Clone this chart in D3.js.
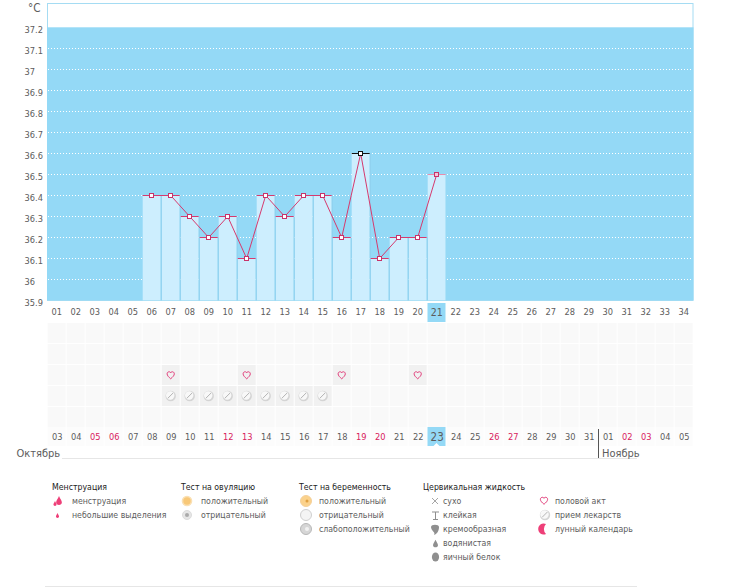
<!DOCTYPE html>
<html><head><meta charset="utf-8">
<script src="https://cdn.jsdelivr.net/npm/d3@7/dist/d3.min.js"></script>
<style>
html,body{margin:0;padding:0;background:#fff}
svg{display:block}
text{font-family:"DejaVu Sans Condensed","DejaVu Sans",sans-serif;font-stretch:condensed;fill:#5c5c5c}
</style></head><body><svg id="c" width="731" height="587"></svg>
<script>
const cycleDays = d3.range(1,35).map(d=>String(d).padStart(2,"0"));
const calendarDays = ["03","04","05","06","07","08","09","10","11","12","13","14","15","16","17","18","19","20","21","22","23","24","25","26","27","28","29","30","31","01","02","03","04","05"];
const redCalendarIndex = [2,3,9,10,16,17,23,24,30,31];
const tempDays = ["06","07","08","09","10","11","12","13","14","15","16","17","18","19","20","21"];
const tempValues = [36.4,36.4,36.3,36.2,36.3,36.1,36.4,36.3,36.4,36.4,36.2,36.6,36.1,36.2,36.2,36.5];
const yTicks = [37.2,37.1,37,36.9,36.8,36.7,36.6,36.5,36.4,36.3,36.2,36.1,36,35.9];
const heartDays = ["07","11","16","20"];
const pillDays = ["07","08","09","10","11","12","13","14","15"];
const todayDay = "21";
const peakDay = "17";
const legendMens = ["менструация","небольшие выделения"];
const legendOvul = ["положительный","отрицательный"];
const legendPreg = ["положительный","отрицательный","слабоположительный"];
const legendFluid = ["сухо","клейкая","кремообразная","водянистая","яичный белок"];
const legendOther = ["половой акт","прием лекарств","лунный календарь"];
const legendHeads = ["Менструация","Тест на овуляцию","Тест на беременность","Цервикальная жидкость"];

const svg = d3.select("#c");
const blue="#94d9f6", pale="#cdeefe", sep="#8fd0ee", pink="#d63a6e", red="#d81b5c";
const x = d3.scaleBand().domain(cycleDays).range([47.7,693.7]);
const y = d3.scaleLinear().domain([35.9,37.2]).range([300.3,27.3]);
const rowsY = [323,344,365,386,407,427];

svg.append("rect").attr("x",47.5).attr("y",3.5).attr("width",645.5).attr("height",297).attr("fill","#fff").attr("stroke","#a5dcf3");
svg.append("rect").attr("x",47).attr("y",y(37.2)).attr("width",646.5).attr("height",y(35.9)-y(37.2)).attr("fill",blue);

svg.append("g").selectAll("line").data(yTicks.filter(d=>d<37.2&&d>35.9)).join("line")
 .attr("x1",48).attr("x2",693).attr("y1",d=>Math.round(y(d))+.5).attr("y2",d=>Math.round(y(d))+.5)
 .attr("stroke","#fff").attr("stroke-dasharray","1 2");

const ya = svg.append("g").attr("transform","translate(47,0)")
 .call(d3.axisLeft(y).tickValues(yTicks).tickSize(0).tickFormat(d3.format("~g")));
ya.select(".domain").remove();
ya.selectAll("text").attr("x",-22.5).attr("dy",".36em").attr("text-anchor","start").style("font-size","9.2px")
 .attr("transform","translate(0,2)").attr("fill",null);
svg.append("text").attr("x",28).attr("y",12).style("font-size","11.5px").text("°C");

const pts = tempDays.map((d,i)=>({d,v:tempValues[i]}));
svg.append("g").selectAll("rect").data(pts).join("rect")
 .attr("x",d=>x(d.d)).attr("width",x.bandwidth()-1).attr("y",d=>y(d.v)).attr("height",d=>y(35.9)-y(d.v)).attr("fill",pale);
svg.append("g").selectAll("line").data(pts).join("line")
 .attr("x1",d=>x(d.d)+18.5).attr("x2",d=>x(d.d)+18.5).attr("y1",d=>y(d.v)).attr("y2",y(35.9)).attr("stroke",d=>d.d===todayDay?blue:sep);
svg.append("g").selectAll("line").data(pts).join("line")
 .attr("x1",d=>x(d.d)).attr("x2",d=>x(d.d)+x.bandwidth()-1)
 .attr("y1",d=>Math.round(y(d.v))+.5).attr("y2",d=>Math.round(y(d.v))+.5)
 .attr("stroke",d=>d.d===peakDay?"#111":d.d===todayDay?"#e88cad":pink);
const cx=d=>x(d)+x.bandwidth()/2-.5;
svg.append("path").datum(pts).attr("fill","none").attr("stroke",pink).attr("stroke-width",1)
 .attr("d",d3.line().x(d=>cx(d.d)).y(d=>Math.round(y(d.v))+.5));
svg.append("g").selectAll("rect").data(pts).join("rect")
 .attr("x",d=>Math.round(cx(d.d))-2.5).attr("y",d=>Math.round(y(d.v))-1.5).attr("width",4).attr("height",4)
 .attr("fill",d=>d.d===todayDay?"#f6c6d8":"#fff").attr("stroke",d=>d.d===peakDay?"#111":"#c8336a");

const hlX = x(todayDay)-.2;
svg.append("rect").attr("x",hlX).attr("y",303).attr("width",18).attr("height",19).attr("fill",blue);
svg.append("rect").attr("x",hlX).attr("y",427).attr("width",18).attr("height",19).attr("fill",blue);
svg.append("path").attr("d",d3.line()([[hlX+6,446],[hlX+9,443],[hlX+12,446]])).attr("fill","#fff");

const g = svg.append("g");
rowsY.forEach((ry,ri)=>{
  g.append("g").selectAll("rect").data(cycleDays).join("rect")
   .attr("x",d=>x(d)).attr("y",ry).attr("width",18).attr("height",ri===5?19:20)
   .attr("fill",d=>{
     if(ri===5&&d===todayDay) return "none";
     if((ri===2&&heartDays.includes(d))||(ri===3&&pillDays.includes(d))) return "#f1f1f1";
     return ri===5?"#fcfcfc":"#f9f9f9";
   });
});

const xa = svg.append("g").attr("transform","translate(-.5,312)")
 .call(d3.axisBottom(x).tickSize(0).tickPadding(0));
xa.select(".domain").remove();
xa.selectAll("text").attr("y",0).attr("dy",".36em").style("font-size",d=>d===todayDay?"10.5px":"9.2px").attr("fill",null);
const xb = d3.scaleBand().domain(d3.range(34)).range([47.7,693.7]);
const xba = svg.append("g").attr("transform","translate(0,437)")
 .call(d3.axisBottom(xb).tickSize(0).tickPadding(0).tickFormat(i=>calendarDays[i]));
xba.select(".domain").remove();
xba.selectAll("text").attr("y",0).attr("dy",".36em").style("font-size",i=>i===20?"11.5px":"9.2px")
 .attr("fill",null).style("fill",i=>redCalendarIndex.includes(i)?red:null);

svg.append("line").attr("x1",62).attr("x2",637).attr("y1",458.5).attr("y2",458.5).attr("stroke","#e6e6e6");
svg.append("line").attr("x1",598.5).attr("x2",598.5).attr("y1",429).attr("y2",458).attr("stroke","#555");
svg.append("text").attr("x",16.5).attr("y",457).style("font-size","11px").text("Октябрь");
svg.append("text").attr("x",602).attr("y",457).style("font-size","11px").text("Ноябрь");
svg.append("line").attr("x1",45).attr("x2",637).attr("y1",586.5).attr("y2",586.5).attr("stroke","#e6e6e6");

function heart(sel,cx,cy){
  sel.append("path").attr("transform",`translate(${cx},${cy})`)
   .attr("d","M0,3.8 C-2,2 -3.6,.6 -3.6,-1.2 C-3.6,-2.8 -2.2,-3.4 -1.2,-3.2 C-.6,-3.1 -.2,-2.7 0,-2.2 C.2,-2.7 .6,-3.1 1.2,-3.2 C2.2,-3.4 3.6,-2.8 3.6,-1.2 C3.6,.6 2,2 0,3.8Z")
   .attr("fill","none").attr("stroke","#e2407c").attr("stroke-width",1);
}
function pill(sel,cx,cy){
  const p=sel.append("g").attr("transform",`translate(${cx},${cy})`);
  p.append("circle").attr("r",5.2).attr("fill","#d4d4d4");
  p.append("circle").attr("cx",-.5).attr("cy",-.5).attr("r",4.2).attr("fill","#f8f8f8");
  p.append("line").attr("x1",-3).attr("y1",2.4).attr("x2",2.4).attr("y2",-3).attr("stroke","#b4b4b4").attr("stroke-width",1);
}
const ic=svg.append("g");
heartDays.forEach(d=>heart(ic,cx(d),375));
pillDays.forEach(d=>pill(ic,cx(d),396));

const lg=svg.append("g").style("font-size","8.7px");
const rowY=i=>501+14*i;
const head=(t,xp)=>lg.append("text").attr("x",xp).attr("y",490).style("font-size","8.7px").style("fill","#222").text(t);
[52,181,299,423].forEach((xp,i)=>head(legendHeads[i],xp));
const items=(arr,xp)=>arr.forEach((t,i)=>lg.append("text").attr("x",xp).attr("y",rowY(i)).attr("dy",".36em").text(t));
items(legendMens,72);items(legendOvul,201);items(legendPreg,319);items(legendFluid,443);items(legendOther,555);

const drop=(sel,cx,cy,s,c)=>sel.append("path").attr("transform",`translate(${cx},${cy}) scale(${s})`)
  .attr("d","M0,-4 C1,-1.5 2.6,0 2.6,1.8 C2.6,3.4 1.4,4 0,4 C-1.4,4 -2.6,3.4 -2.6,1.8 C-2.6,0 -1,-1.5 0,-4Z").attr("fill",c);
const mp="#ee3f78";
drop(lg,59,500.5,1.1,mp);drop(lg,55,503.5,.6,mp);drop(lg,57.5,515.5,.6,mp);
lg.append("circle").attr("cx",187).attr("cy",501).attr("r",4.5).attr("fill","#f8c878").attr("stroke","#fae0b4").attr("stroke-width",1.6);
lg.append("circle").attr("cx",187).attr("cy",515).attr("r",4.5).attr("fill","#e6e6e6").attr("stroke","#dcdcdc");
lg.append("circle").attr("cx",187).attr("cy",515).attr("r",2).attr("fill","#aaa");
lg.append("circle").attr("cx",306).attr("cy",501).attr("r",5.5).attr("fill","#fbd28c").attr("stroke","#f4d09a");
lg.append("circle").attr("cx",307).attr("cy",501).attr("r",1.5).attr("fill","#e0a040");
lg.append("circle").attr("cx",306).attr("cy",515).attr("r",5.5).attr("fill","#f4f4f4").attr("stroke","#cfcfcf");
lg.append("circle").attr("cx",306).attr("cy",529).attr("r",5.5).attr("fill","#d6d6d6").attr("stroke","#b8b8b8");
lg.append("circle").attr("cx",307).attr("cy",529).attr("r",2).attr("fill","#f2f2f2");
const gr="#8f8f8f";
lg.append("path").attr("d","M432,498 L438,504 M438,498 L432,504").attr("stroke",gr).attr("fill","none").attr("stroke-width",.8);
lg.append("path").attr("d","M432,512 H439 M435.5,512 V519 M433,519.5 H438").attr("stroke",gr).attr("fill","none");
lg.append("path").attr("d","M431,527 C431,524 439,524 439,527 C439,531 437,534 434,535 C436,532 431,531 431,527Z").attr("fill",gr);
drop(lg,435.5,543.5,.95,gr);
lg.append("ellipse").attr("cx",435.5).attr("cy",557).attr("rx",3.6).attr("ry",4.6).attr("fill",gr);
heart(lg,544,500.5);
pill(lg,545,515);
lg.append("path").attr("d","M546,524 A5.5,5.5 0 1,0 546,534 A7,7 0 0,1 546,524Z").attr("fill","#ee3f78");
</script></body></html>
